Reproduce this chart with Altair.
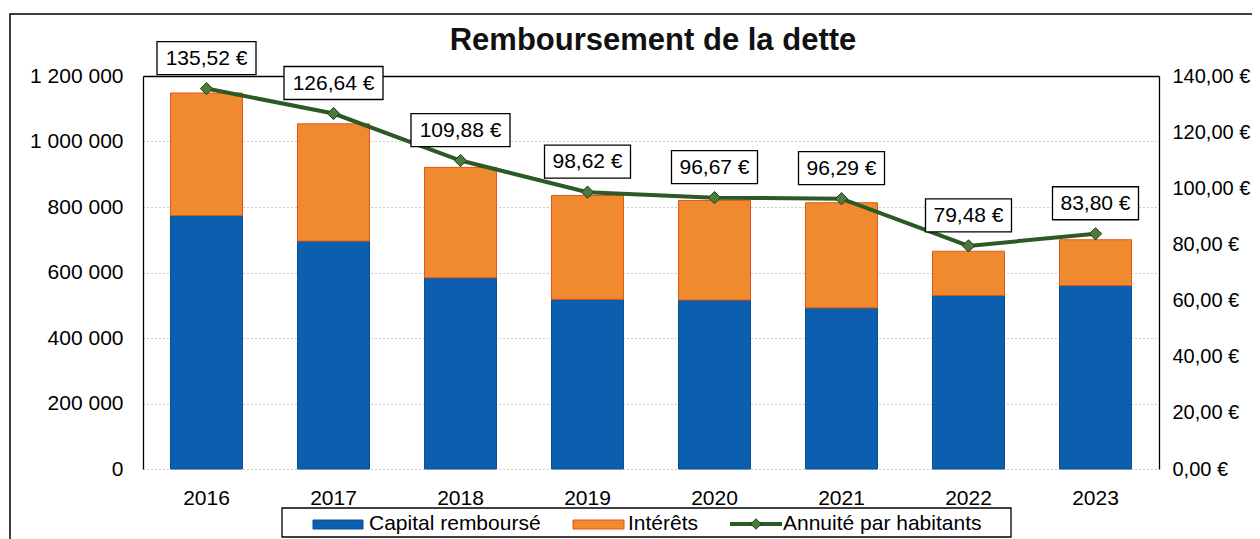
import altair as alt
import pandas as pd

# ---- data ----
years = ["2016", "2017", "2018", "2019", "2020", "2021", "2022", "2023"]
capital = [774000, 696000, 584000, 518000, 516000, 492000, 530000, 560000]
interets = [374000, 358000, 337000, 317000, 304000, 321000, 135000, 140000]
annuite = [135.52, 126.64, 109.88, 98.62, 96.67, 96.29, 79.48, 83.80]
series = ["Capital remboursé", "Intérêts", "Annuité par habitants"]
left_ticks = [0, 200000, 400000, 600000, 800000, 1000000, 1200000]
right_ticks = [0, 20, 40, 60, 80, 100, 120, 140]
title_text = "Remboursement de la dette"

FONT = "Liberation Sans"
BLUE = "#0b5fae"
ORANGE = "#ef8a2f"
LINE_GREEN = "#2c5a26"
MARK_GREEN = "#4a7d3b"

bars_df = pd.DataFrame({
    "annee": years * 2,
    "serie": [series[0]] * len(years) + [series[1]] * len(years),
    "montant": capital + interets,
    "ordre": [0] * len(years) + [1] * len(years),
})
line_df = pd.DataFrame({
    "annee": years,
    "annuite": annuite,
    "label": [f"{v:.2f}".replace(".", ",") + " €" for v in annuite],
})

xscale = alt.Scale(domain=years, paddingInner=0.433, paddingOuter=0.2165)
top_test = "datum.value === 1200000"

bars = alt.Chart(bars_df).mark_bar(strokeWidth=1).encode(
    x=alt.X("annee:N", scale=xscale, title=None,
            axis=alt.Axis(labelAngle=0, ticks=False, domain=False, labelPadding=18)),
    y=alt.Y("montant:Q", stack="zero", title=None,
            scale=alt.Scale(domain=[0, 1200000], nice=False),
            axis=alt.Axis(values=left_ticks, format=",d", ticks=False, labelPadding=20,
                          domain=True, domainColor="black", domainWidth=1.3,
                          grid=True,
                          gridColor={"condition": {"test": top_test, "value": "#000000"}, "value": "#9a9a9a"},
                          gridDash={"condition": {"test": top_test, "value": []}, "value": [1, 3]},
                          gridWidth={"condition": {"test": top_test, "value": 1.3}, "value": 1})),
    color=alt.Color("serie:N", scale=alt.Scale(domain=series[:2], range=[BLUE, ORANGE]), legend=None),
    stroke=alt.Stroke("serie:N", scale=alt.Scale(domain=series[:2], range=["#0a4f96", "#e4541e"]), legend=None),
    order=alt.Order("ordre:Q", sort="ascending"),
)

base_line = alt.Chart(line_df).encode(
    x=alt.X("annee:N", scale=xscale, title=None),
)
right_axis = alt.Axis(orient="right", values=right_ticks, format="$,.2f", ticks=False,
                      labelPadding=13, labelFontSize=20, grid=False, domain=True,
                      domainColor="black", domainWidth=1.3)
yright = alt.Y("annuite:Q", title=None, scale=alt.Scale(domain=[0, 140], nice=False),
               axis=right_axis)

line = base_line.mark_line(color=LINE_GREEN, strokeWidth=4).encode(y=yright)
points = base_line.mark_point(shape="diamond", filled=True, size=150, fill=MARK_GREEN,
                              stroke="#1e3d19", strokeWidth=1, opacity=1).encode(y=yright)
boxes = base_line.transform_calculate(
    boxw="13 * length(datum.label) - 5"
).mark_bar(fill="white", stroke="black", strokeWidth=1.3, yOffset=-14, y2Offset=-47).encode(
    y=yright,
    y2="annuite:Q",
    size=alt.Size("boxw:Q", scale=None, legend=None),
)
labels = base_line.mark_text(fontSize=21, font=FONT, dy=-30, baseline="middle",
                             align="center", color="black").encode(
    y=yright,
    text="label:N",
)
line_group = alt.layer(line, boxes, labels, points)

# ---- decorations: title, outer frame, legend ----
one = pd.DataFrame({"k": [0]})
frame = alt.Chart(one).mark_rect(fillOpacity=0, stroke="black", strokeWidth=1.5).encode(
    x=alt.value(-133), x2=alt.value(1125), y=alt.value(-62), y2=alt.value(480))
title = alt.Chart(pd.DataFrame({"t": [title_text]})).mark_text(
    fontSize=31, fontWeight="bold", font=FONT, align="center", baseline="alphabetic",
    color="#111111").encode(x=alt.value(510), y=alt.value(-26), text="t:N")

leg_box = alt.Chart(one).mark_rect(fill="white", stroke="black", strokeWidth=1.3).encode(
    x=alt.value(139), x2=alt.value(868), y=alt.value(432), y2=alt.value(461))
sw_blue = alt.Chart(one).mark_rect(fill=BLUE, stroke="#0a4f96", strokeWidth=1).encode(
    x=alt.value(170), x2=alt.value(220), y=alt.value(444), y2=alt.value(453))
sw_orange = alt.Chart(one).mark_rect(fill=ORANGE, stroke="#e4541e", strokeWidth=1).encode(
    x=alt.value(430), x2=alt.value(481), y=alt.value(444), y2=alt.value(453))
leg_line = alt.Chart(one).mark_rule(color=LINE_GREEN, strokeWidth=4).encode(
    x=alt.value(587), x2=alt.value(639), y=alt.value(448))
leg_pt = alt.Chart(one).mark_point(shape="diamond", filled=True, size=110, fill=MARK_GREEN,
                                   stroke="#1e3d19", strokeWidth=1, opacity=1).encode(
    x=alt.value(613), y=alt.value(448))
leg_text_df = pd.DataFrame({"name": series, "px": [226, 485, 640]})
leg_text = alt.Chart(leg_text_df).mark_text(fontSize=21, font=FONT, align="left",
                                            baseline="alphabetic", color="black").encode(
    x=alt.X("px:Q", scale=None), y=alt.value(454), text="name:N")

chart = alt.layer(
    frame, bars, line_group, title, leg_box, sw_blue, sw_orange, leg_line, leg_pt, leg_text
).resolve_scale(y="independent").properties(
    width=1016, height=393,
    padding={"left": 135, "top": 68, "right": 93, "bottom": 70},
    autosize=alt.AutoSizeParams(type="none"),
    background="white",
).configure(
    locale={"number": {"decimal": ",", "thousands": " ", "grouping": [3], "currency": ["", " €"]}}
).configure_axis(
    labelFont=FONT, labelFontSize=21, labelColor="black"
).configure_view(stroke="transparent")

chart.save("out.html", embed_options={"renderer": "svg", "actions": False})
